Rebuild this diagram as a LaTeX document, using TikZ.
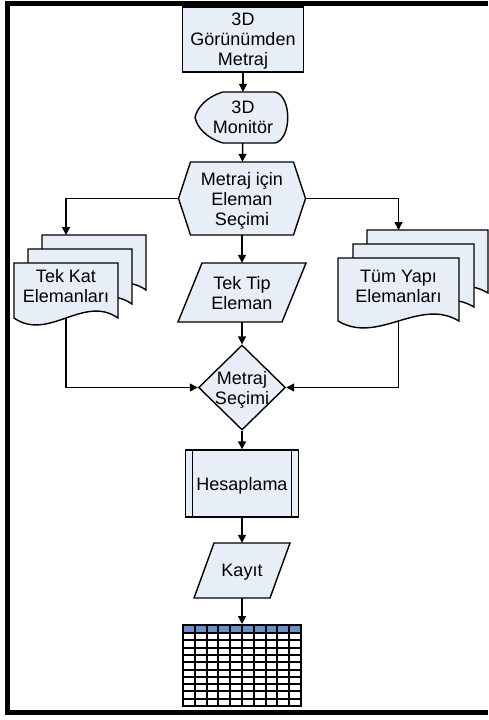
\documentclass[tikz,border=0pt]{standalone}
\usepackage{fontspec}
\setmainfont{Liberation Sans}
\usepackage{tikz}
\usetikzlibrary{shapes.geometric,arrows.meta,calc,positioning}
\definecolor{acikmavi}{RGB}{232,238,248}
\definecolor{baslikmavi}{RGB}{108,143,203}
\tikzset{
  sekil/.style={draw=black, fill=acikmavi, line width=1.4pt, line join=miter},
  yazi/.style={align=center, font=\fontsize{18}{20}\selectfont, inner sep=0pt, text depth=0pt},
  ok/.style={line width=1.4pt, -{Triangle[length=8pt,width=8pt]}},
}
% cok sayfali belge: x, y, genislik, yukseklik
\newcommand{\belgeciz}[4]{%
  \filldraw[sekil] (#1,#2) -- ({#1+#3},#2) -- ({#1+#3},{#2+#4})
    .. controls ({#1+0.67*#3},{#2+#4-24}) and ({#1+0.33*#3},{#2+#4+24}) .. (#1,{#2+#4}) -- cycle;}

\begin{document}
\begin{tikzpicture}[x=1pt,y=-1pt]
\useasboundingbox (0,0) rectangle (488,720);
% cerceve
\draw[line width=5pt] (488,3) -| (7.5,712) -- (488,712);

% 3D gorunumden metraj
\node[sekil, yazi, minimum width=121pt, minimum height=65pt] (metraj) at (243,39.5) {3D\\Görünümden\\Metraj};

% monitor
\filldraw[sekil] (223,92) -- (275,92) .. controls (292,96) and (292,139) .. (275,143) -- (223,143)
   .. controls (206,138) and (197,127) .. (195,117.5) .. controls (197,108) and (206,97) .. (223,92) -- cycle;
\node[yazi, minimum width=93pt, minimum height=51pt] (monitor) at (243,117.5) {3D\\Monitör};

% eleman secimi
\filldraw[sekil] (178.5,198.5) -- (190.5,162) -- (293.5,162) -- (305.5,198.5) -- (293.5,235) -- (190.5,235) -- cycle;
\node[yazi, minimum width=127pt, minimum height=73pt] (elemansecim) at (242,198.5) {Metraj için\\Eleman\\Seçimi};

% tek kat elemanlari
\belgeciz{42}{235}{104}{55}
\belgeciz{28}{249}{104}{55}
\belgeciz{14}{263}{104}{55}
\node[yazi] (tekkat) at (66,286) {Tek Kat\\Elemanları};
\coordinate (tekkat-ust) at (66,235);
\coordinate (tekkat-alt) at (66,318);

% tek tip eleman
\filldraw[sekil] (178,322) -- (202,263) -- (306,263) -- (282,322) -- cycle;
\node[yazi, minimum width=128pt, minimum height=59pt] (tektip) at (242,292.5) {Tek Tip\\Eleman};

% tum yapi elemanlari
\belgeciz{367}{230}{121}{63}
\belgeciz{353}{244}{121}{63}
\belgeciz{338}{258}{121}{63}
\node[yazi] (tumyapi) at (398.5,286) {Tüm Yapı\\Elemanları};
\coordinate (tumyapi-ust) at (398.5,230);
\coordinate (tumyapi-alt) at (398.5,321);

% metraj secimi
\node[sekil, diamond, minimum width=87pt, minimum height=85pt, inner sep=0pt] (metrajsecim) at (242,387.5) {};
\node[yazi] (metrajsecim-yazi) at (metrajsecim) {Metraj\\Seçimi};

% hesaplama
\node[sekil, yazi, minimum width=113pt, minimum height=67pt] (hesap) at (242,483.5) {Hesaplama};
\draw[line width=1pt] ($(hesap.north west)+(8,0)$) -- ($(hesap.south west)+(8,0)$);
\draw[line width=1pt] ($(hesap.north east)+(-8,0)$) -- ($(hesap.south east)+(-8,0)$);

% kayit
\filldraw[sekil] (194,598) -- (214,543) -- (290,543) -- (270,598) -- cycle;
\node[yazi, minimum width=96pt, minimum height=55pt] (kayit) at (242,570.5) {Kayıt};

% tablo
\fill[baslikmavi] (183,625) rectangle (301,633);
\fill[white] (183,633) rectangle (301,706);
\foreach \i in {1,...,9}
  \draw[line width=2pt] (183+11.8*\i,625) -- (183+11.8*\i,706);
\foreach \j in {0,...,9}
  \draw[line width=2pt] (183,633+7.3*\j) -- (301,633+7.3*\j);
\node[draw, line width=2pt, minimum width=118pt, minimum height=81pt, inner sep=0pt] (tablo) at (242,665.5) {};

% baglantilar
\draw[ok] (metraj) -- (monitor);
\draw[ok] (monitor) -- (elemansecim);
\draw[ok] (elemansecim.west) -| (tekkat-ust);
\draw[ok] (elemansecim.east) -| (tumyapi-ust);
\draw[ok] (elemansecim) -- (tektip);
\draw[ok] (tektip) -- (metrajsecim);
\draw[ok] (tekkat-alt) |- (metrajsecim.west);
\draw[ok] (tumyapi-alt) |- (metrajsecim.east);
\draw[ok] (metrajsecim) -- (hesap);
\draw[ok] (hesap) -- (kayit);
\draw[ok] (kayit) -- (tablo);
\end{tikzpicture}
\end{document}
